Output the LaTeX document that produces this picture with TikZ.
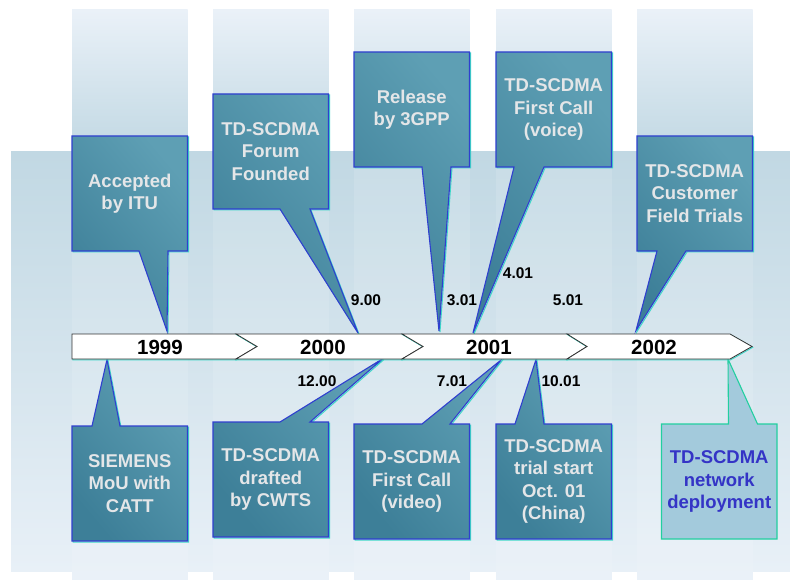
\documentclass[tikz,border=0pt]{standalone}
\usepackage{fontspec}
\setmainfont{Liberation Sans}
\usetikzlibrary{calc}
\definecolor{boxdark}{HTML}{3D7F98}
\definecolor{boxlight}{HTML}{5E9FB4}
\definecolor{boxline}{HTML}{2F3FCF}
\definecolor{boxtext}{HTML}{E4E6E8}
\definecolor{shadowc}{HTML}{3FD8C8}
\definecolor{bandtop}{HTML}{C1D8E3}
\definecolor{bandbot}{HTML}{E8F0F7}
\definecolor{coltop}{HTML}{EAF1F8}
\definecolor{netfill}{HTML}{A3CADC}
\definecolor{netline}{HTML}{22CFA0}
\definecolor{nettext}{HTML}{3434C6}
\pgfdeclarelayer{bg}\pgfdeclarelayer{shapes}\pgfsetlayers{bg,shapes,main}
\tikzset{
 callout/.style={draw=boxline, line width=1.1pt, line join=miter,
   top color=boxlight, bottom color=boxdark, shading angle=-50,
   preaction={draw=shadowc, line width=1pt, transform canvas={shift={(1pt,-1pt)}}}},
 netcallout/.style={draw=netline, line width=1.1pt, fill=netfill},
 boxlabel/.style={minimum width=115.5pt, minimum height=115pt, inner sep=0pt, outer sep=0pt,
   align=center, text=boxtext, font=\fontsize{18.5}{22.3}\selectfont\bfseries},
 netlabel/.style={boxlabel, text=nettext},
 year/.style={font=\fontsize{20.5}{24}\selectfont\bfseries, text=black, inner sep=0pt},
 datelabel/.style={font=\fontsize{15.5}{18}\selectfont\bfseries, text=black, inner sep=0pt},
 chevron/.style={fill=white, draw=black!80, line width=0.8pt, line join=miter,
   preaction={draw=shadowc, line width=0.9pt, transform canvas={shift={(0.8pt,-0.8pt)}}}},
}
\newcommand\calloutup[5]{%
 \path[#1] (#2.north west) -- (#2.north east) -- (#2.south east)
   -- ($(#2.south west)+(#4,0)$) -- (#5) -- ($(#2.south west)+(#3,0)$)
   -- (#2.south west) -- cycle;}
\newcommand\calloutdown[5]{%
 \path[#1] (#2.north west) -- ($(#2.north west)+(#3,0)$) -- (#5)
   -- ($(#2.north west)+(#4,0)$) -- (#2.north east) -- (#2.south east)
   -- (#2.south west) -- cycle;}
\begin{document}
\begin{tikzpicture}[x=1pt,y=-1pt]
\useasboundingbox (0,0) rectangle (790,580);
% background
\begin{pgfonlayer}{bg}
\fill[white] (0,0) rectangle (790,580);
\shade[top color=bandtop, bottom color=bandbot] (11,152) rectangle (790,571);
\foreach \x in {72,213,354,496,637} {
  \shade[top color=coltop, bottom color=bandtop] (\x,10) rectangle ++(115.5,142);
  \fill[white, opacity=0.12] (\x,152) rectangle ++(115.5,419);
  \fill[coltop] (\x,571) rectangle ++(115.5,9);
}
\end{pgfonlayer}
% boxes (top)
\node[boxlabel] (a1) at (129.75,193.5) {Accepted\\by ITU};
\node[boxlabel] (a2) at (270.75,151.5) {TD-SCDMA\\Forum\\Founded};
\node[boxlabel] (a3) at (411.75,109.5) {Release\\by 3GPP};
\node[boxlabel] (a4) at (553.75,109.5) {TD-SCDMA\\First Call\\(voice)};
\node[boxlabel] (a5) at (694.75,193.5) {TD-SCDMA\\Customer\\Field Trials};
% boxes (bottom)
\node[boxlabel] (b1) at (129.75,483.5) {SIEMENS\\MoU with\\CATT};
\node[boxlabel] (b2) at (270.75,479.5) {TD-SCDMA\\drafted\\by CWTS};
\node[boxlabel] (b3) at (411.75,481.5) {TD-SCDMA\\First Call\\(video)};
\node[boxlabel] (b4) at (553.75,481.5) {TD-SCDMA\\trial start\\Oct. 01\\(China)};
\node[netlabel] (b5) at (719.25,481.5) {TD-SCDMA\\network\\deployment};
% tips
\coordinate (ta1) at (167,331);
\coordinate (ta2) at (358,333);
\coordinate (ta3) at (439,331);
\coordinate (ta4) at (473,333);
\coordinate (ta5) at (636,330.5);
\coordinate (tb1) at (107,359.5);
\coordinate (tb2) at (383,358.5);
\coordinate (tb3) at (501,360);
\coordinate (tb4) at (536,359.5);
\coordinate (tb5) at (728,359);
\begin{pgfonlayer}{shapes}
\calloutup{callout}{a1}{67}{96}{ta1}
\calloutup{callout}{a2}{67}{97}{ta2}
\calloutup{callout}{a3}{68}{97}{ta3}
\calloutup{callout}{a4}{18}{48}{ta4}
\calloutup{callout}{a5}{20}{49}{ta5}
\calloutdown{callout}{b1}{20}{48}{tb1}
\calloutdown{callout}{b2}{67}{97}{tb2}
\calloutdown{callout}{b3}{68}{96}{tb3}
\calloutdown{callout}{b4}{19}{48}{tb4}
\calloutdown{netcallout}{b5}{67}{96}{tb5}
% timeline
\draw[chevron] (72,334) -- (236,334) -- (257,346.5) -- (236,359) -- (72,359) -- cycle;
\draw[chevron] (236,334) -- (402,334) -- (423,346.5) -- (402,359) -- (236,359) -- (257,346.5) -- cycle;
\draw[chevron] (402,334) -- (567,334) -- (587,346.5) -- (567,359) -- (402,359) -- (423,346.5) -- cycle;
\draw[chevron] (567,334) -- (730,334) -- (752,346.5) -- (730,359) -- (567,359) -- (587,346.5) -- cycle;
\end{pgfonlayer}
% years
\node[year] (y1999) at (160,347.5) {1999};
\node[year] (y2000) at (323,347.5) {2000};
\node[year] (y2001) at (489,347.5) {2001};
\node[year] (y2002) at (654,347.5) {2002};
% dates
\node[datelabel] (d900) at (366,300) {9.00};
\node[datelabel] (d301) at (462,300) {3.01};
\node[datelabel] (d401) at (518,273) {4.01};
\node[datelabel] (d501) at (568,300) {5.01};
\node[datelabel] (d1200) at (317,381) {12.00};
\node[datelabel] (d701) at (452,381) {7.01};
\node[datelabel] (d1001) at (561,381) {10.01};
\end{tikzpicture}
\end{document}
